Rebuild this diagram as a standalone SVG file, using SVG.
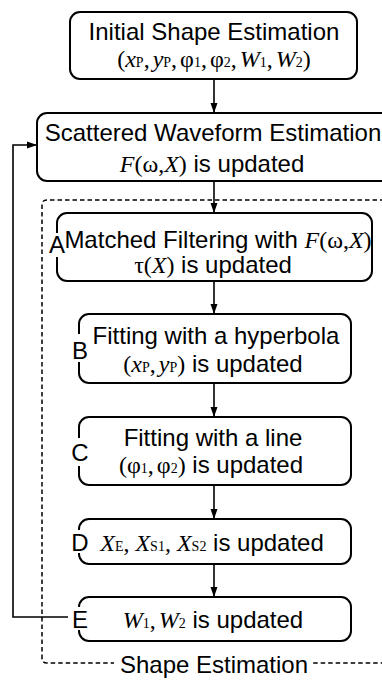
<svg xmlns="http://www.w3.org/2000/svg" width="382" height="681" viewBox="0 0 382 681">
<style>
.box{fill:#fff;stroke:#000;stroke-width:2}
.conn{fill:none;stroke:#000;stroke-width:1.6}
.dash{fill:none;stroke:#000;stroke-width:1.5;stroke-dasharray:4.5 3}
.t{font-family:"Liberation Sans",Arial,Helvetica,sans-serif;font-size:24px;fill:#000;text-anchor:middle}
.m{font-family:"Liberation Serif","Times New Roman",serif;font-style:italic}
.u{font-family:"Liberation Serif","Times New Roman",serif;font-style:normal}
.s{font-family:"Liberation Serif","Times New Roman",serif;font-style:normal;font-size:14px}
.lbl{font-family:"Liberation Sans",Arial,Helvetica,sans-serif;font-size:24px;fill:#000;text-anchor:middle}
</style>
<defs>
<marker id="ah" markerUnits="userSpaceOnUse" markerWidth="10" markerHeight="10" viewBox="0 0 10 10" refX="10" refY="5" orient="auto">
<path d="M0,1.5 L10,5 L0,8.5 z" fill="#000"/>
</marker>
</defs>
<rect width="382" height="681" fill="#fff"/>

<g id="shape-estimation-frame">
<path class="dash" d="M392,200 H47 Q42,200 42,205 V658 Q42,663 47,663 H392"/>
<rect x="114" y="650" width="198" height="30" fill="#fff"/>
<text class="t" x="214" y="673">Shape Estimation</text>
</g>

<g id="connectors">
<line class="conn" x1="214" y1="79" x2="214" y2="113" marker-end="url(#ah)"/>
<line class="conn" x1="214" y1="181" x2="214" y2="213" marker-end="url(#ah)"/>
<line class="conn" x1="214" y1="281" x2="214" y2="314" marker-end="url(#ah)"/>
<line class="conn" x1="214" y1="383" x2="214" y2="417" marker-end="url(#ah)"/>
<line class="conn" x1="214" y1="485" x2="214" y2="519" marker-end="url(#ah)"/>
<line class="conn" x1="214" y1="564" x2="214" y2="597" marker-end="url(#ah)"/>
<polyline class="conn" points="68,617 13,617 13,145 37,145" marker-end="url(#ah)"/>
</g>

<g id="initial">
<rect class="box" x="70" y="12" width="287" height="67" rx="10"/>
<text class="t" x="214" y="40">Initial Shape Estimation</text>
<text class="t" x="214" y="67"><tspan class="u">(</tspan><tspan class="m">x</tspan><tspan class="s">P</tspan><tspan class="u">,</tspan><tspan class="m" dx="3">y</tspan><tspan class="s">P</tspan><tspan class="u">,</tspan><tspan class="u" dx="3">φ</tspan><tspan class="s">1</tspan><tspan class="u">,</tspan><tspan class="u" dx="3">φ</tspan><tspan class="s">2</tspan><tspan class="u">,</tspan><tspan class="m" dx="3">W</tspan><tspan class="s">1</tspan><tspan class="u">,</tspan><tspan class="m" dx="3">W</tspan><tspan class="s">2</tspan><tspan class="u">)</tspan></text>
</g>

<g id="scattered">
<rect class="box" x="37" y="113" width="362" height="68" rx="10"/>
<text class="t" x="213" y="141" font-size="23.5">Scattered Waveform Estimation</text>
<text class="t" x="212" y="172"><tspan class="m">F</tspan><tspan class="u">(ω,</tspan><tspan class="m">X</tspan><tspan class="u">)</tspan> is updated</text>
</g>

<g id="A">
<rect class="box" x="57" y="213" width="315" height="68" rx="10"/>
<text class="t" x="218" y="248" font-size="23">Matched Filtering with <tspan class="m">F</tspan><tspan class="u">(ω,</tspan><tspan class="m">X</tspan><tspan class="u">)</tspan></text>
<text class="t" x="213" y="273"><tspan class="u">τ(</tspan><tspan class="m">X</tspan><tspan class="u">)</tspan> is updated</text>
<rect x="49" y="233" width="16" height="24" fill="#fff"/>
<text class="lbl" x="57" y="253" font-size="22">A</text>
</g>

<g id="B">
<rect class="box" x="79" y="314" width="272" height="69" rx="10"/>
<text class="t" x="216" y="344">Fitting with a hyperbola</text>
<text class="t" x="213" y="372"><tspan class="u">(</tspan><tspan class="m">x</tspan><tspan class="s">P</tspan><tspan class="u">,</tspan><tspan class="m" dx="3">y</tspan><tspan class="s">P</tspan><tspan class="u">)</tspan> is updated</text>
<rect x="72" y="334" width="16" height="28" fill="#fff"/>
<text class="lbl" x="80" y="359">B</text>
</g>

<g id="C">
<rect class="box" x="79" y="417" width="272" height="68" rx="10"/>
<text class="t" x="213" y="446">Fitting with a line</text>
<text class="t" x="211" y="473"><tspan class="u">(φ</tspan><tspan class="s">1</tspan><tspan class="u">,</tspan><tspan class="u" dx="3">φ</tspan><tspan class="s">2</tspan><tspan class="u">)</tspan> is updated</text>
<rect x="72" y="438" width="16" height="28" fill="#fff"/>
<text class="lbl" x="80" y="461">C</text>
</g>

<g id="D">
<rect class="box" x="79" y="519" width="272" height="45" rx="10"/>
<text class="t" x="212" y="551"><tspan class="m">X</tspan><tspan class="s">E</tspan><tspan class="u">,</tspan><tspan class="m" dx="6">X</tspan><tspan class="s">S</tspan><tspan class="s" font-size="9">1</tspan><tspan class="u">,</tspan><tspan class="m" dx="6">X</tspan><tspan class="s">S</tspan><tspan class="s" font-size="9">2</tspan> is updated</text>
<rect x="72" y="530" width="16" height="23" fill="#fff"/>
<text class="lbl" x="80" y="551">D</text>
</g>

<g id="E">
<rect class="box" x="79" y="597" width="272" height="44" rx="10"/>
<text class="t" x="213" y="628"><tspan class="m">W</tspan><tspan class="s">1</tspan><tspan class="u">,</tspan><tspan class="m" dx="3">W</tspan><tspan class="s">2</tspan> is updated</text>
<rect x="72" y="607" width="16" height="23" fill="#fff"/>
<text class="lbl" x="80" y="628">E</text>
</g>
</svg>
